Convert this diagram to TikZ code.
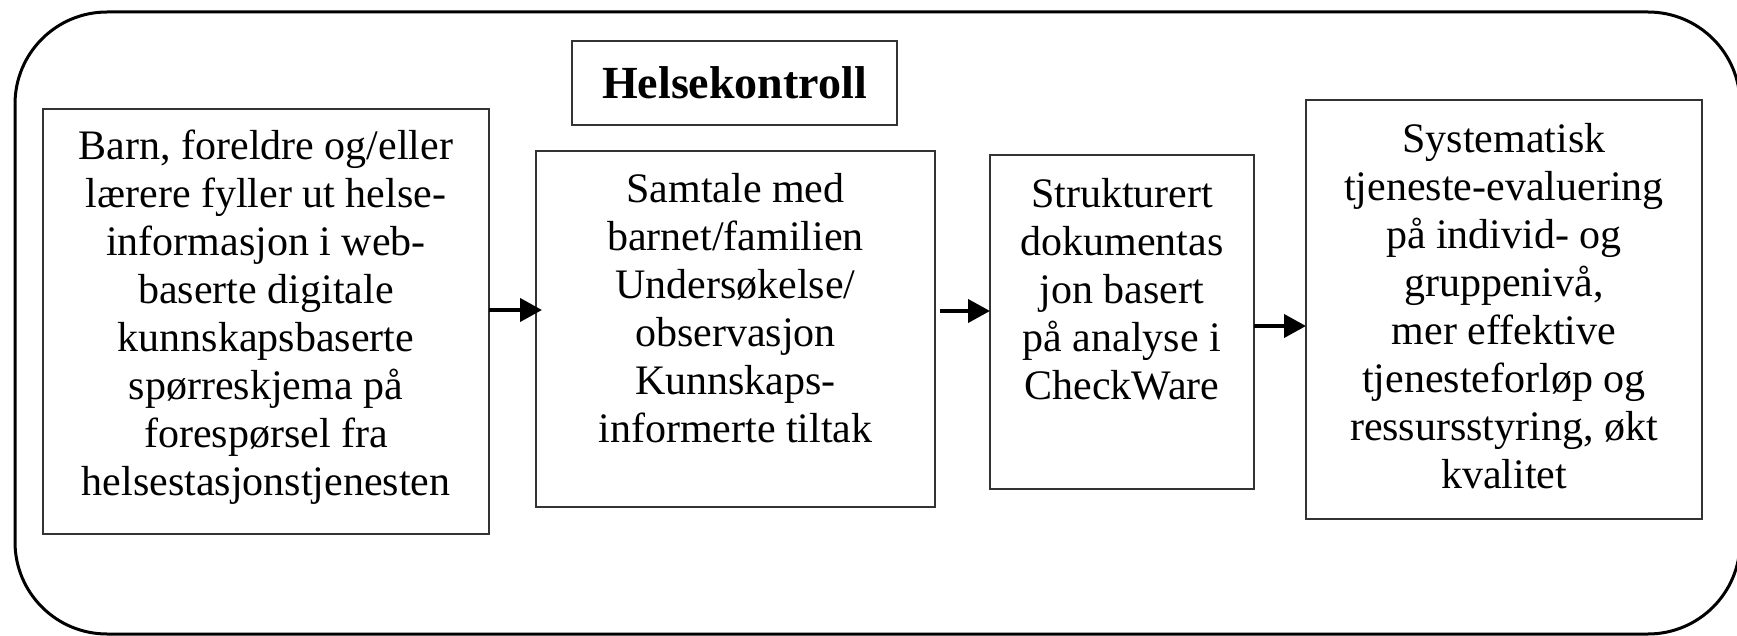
\documentclass[tikz,border=0pt]{standalone}
\usepackage{fontspec}
\setmainfont{Liberation Serif}
\usetikzlibrary{arrows.meta}
\begin{document}
\begin{tikzpicture}[x=1pt,y=-1pt,
  box/.style={draw=black!80, line width=1.6pt, inner sep=0pt, outer sep=0pt},
  txt/.style={align=center, inner sep=0pt, font=\fontsize{42}{48}\selectfont, anchor=north},
  arr/.style={-{Triangle[length=22pt,width=23pt]}, line width=4pt},
]
\useasboundingbox (0,0) rectangle (1737,636);
\clip (0,0) rectangle (1737,636);
\draw[line width=3pt, rounded corners=92pt] (15,12) rectangle (1740,634);

\node[box, minimum width=446pt, minimum height=425pt,
  label={[txt, yshift=-20.3pt]north:{Barn, foreldre og/eller\\lærere fyller ut helse-\\informasjon i web-\\baserte digitale\\kunnskapsbaserte\\spørreskjema på\\forespørsel fra\\helsestasjonstjenesten}}]
  (b1) at (266,321.5) {};

\node[box, minimum width=325pt, minimum height=84pt,
  font=\fontsize{46}{52}\selectfont\bfseries] (hk) at (734.5,83) {Helsekontroll};

\node[box, minimum width=399pt, minimum height=356pt,
  label={[txt, yshift=-22.3pt]north:{Samtale med\\barnet/familien\\Undersøkelse/\\observasjon\\Kunnskaps-\\informerte tiltak}}]
  (b2) at (735.5,329) {};

\node[box, minimum width=264pt, minimum height=334pt,
  label={[txt, yshift=-23.3pt]north:{Strukturert\\dokumentas\\jon basert\\på analyse i\\CheckWare}}]
  (b3) at (1122,322) {};

\node[box, minimum width=396pt, minimum height=419pt,
  label={[txt, yshift=-23.3pt]north:{Systematisk\\tjeneste-evaluering\\på individ- og\\gruppenivå,\\mer effektive\\tjenesteforløp og\\ressursstyring, økt\\kvalitet}}]
  (b4) at (1504,309.5) {};

\coordinate (s1) at ([yshift=11.5pt]b1.east);
\coordinate (s2) at ([yshift=18pt]b2.east);
\coordinate (s3) at ([yshift=-4pt]b3.east);
\draw[arr, shorten >=-6pt] (s1) -- (s1 -| b2.west);
\draw[arr, shorten <=5pt] (s2) -- (s2 -| b3.west);
\draw[arr] (s3) -- (s3 -| b4.west);
\end{tikzpicture}
\end{document}
